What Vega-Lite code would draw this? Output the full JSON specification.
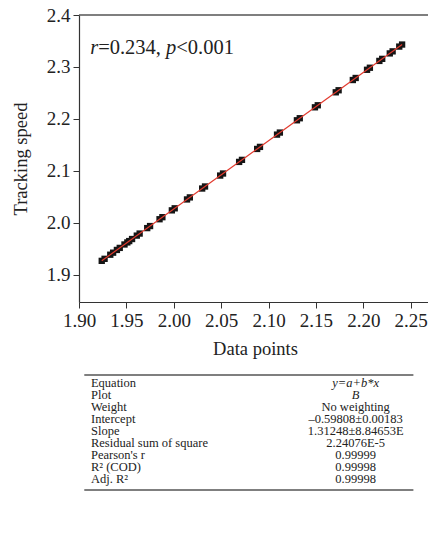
{
  "$schema": "https://vega.github.io/schema/vega-lite/v6.json",
  "background": "white",
  "padding": {"left": 11, "top": 6, "right": 0, "bottom": 0},
  "bounds": "flush",
  "spacing": 73,
  "datasets": {
    "pts": [
      {"x": 1.924, "y": 1.92713}, {"x": 1.927, "y": 1.93107},
      {"x": 1.933, "y": 1.93894}, {"x": 1.936, "y": 1.94288},
      {"x": 1.940, "y": 1.94813}, {"x": 1.943, "y": 1.95207},
      {"x": 1.948, "y": 1.95863}, {"x": 1.951, "y": 1.96257},
      {"x": 1.953, "y": 1.96519}, {"x": 1.956, "y": 1.96913},
      {"x": 1.961, "y": 1.97569}, {"x": 1.964, "y": 1.97963},
      {"x": 1.972, "y": 1.99013}, {"x": 1.975, "y": 1.99407},
      {"x": 1.985, "y": 2.00719}, {"x": 1.988, "y": 2.01113},
      {"x": 1.998, "y": 2.02426}, {"x": 2.001, "y": 2.02820},
      {"x": 2.014, "y": 2.04525}, {"x": 2.017, "y": 2.04919},
      {"x": 2.030, "y": 2.06625}, {"x": 2.033, "y": 2.07019},
      {"x": 2.049, "y": 2.09119}, {"x": 2.052, "y": 2.09513},
      {"x": 2.069, "y": 2.11744}, {"x": 2.072, "y": 2.12138},
      {"x": 2.088, "y": 2.14238}, {"x": 2.091, "y": 2.14632},
      {"x": 2.109, "y": 2.16994}, {"x": 2.112, "y": 2.17388},
      {"x": 2.130, "y": 2.19750}, {"x": 2.133, "y": 2.20144},
      {"x": 2.149, "y": 2.22244}, {"x": 2.152, "y": 2.22638},
      {"x": 2.171, "y": 2.25131}, {"x": 2.174, "y": 2.25525},
      {"x": 2.189, "y": 2.27494}, {"x": 2.192, "y": 2.27888},
      {"x": 2.204, "y": 2.29463}, {"x": 2.207, "y": 2.29857},
      {"x": 2.217, "y": 2.31169}, {"x": 2.220, "y": 2.31563},
      {"x": 2.228, "y": 2.32613}, {"x": 2.231, "y": 2.33007},
      {"x": 2.238, "y": 2.33925}, {"x": 2.241, "y": 2.34319}
    ],
    "fit": [
      {"x": 1.924, "y": 1.92713},
      {"x": 2.241, "y": 2.34319}
    ],
    "table": [
      {"row": 1, "name": "Equation", "value": "y=a+b*x"},
      {"row": 2, "name": "Plot", "value": "B"},
      {"row": 3, "name": "Weight", "value": "No weighting"},
      {"row": 4, "name": "Intercept", "value": "–0.59808±0.00183"},
      {"row": 5, "name": "Slope", "value": "1.31248±8.84653E"},
      {"row": 6, "name": "Residual sum of square", "value": "2.24076E-5"},
      {"row": 7, "name": "Pearson's r", "value": "0.99999"},
      {"row": 8, "name": "R² (COD)", "value": "0.99998"},
      {"row": 9, "name": "Adj. R²", "value": "0.99998"}
    ]
  },
  "config": {
    "view": {"stroke": null},
    "axis": {
      "labelFont": "Liberation Serif",
      "labelFontSize": 19,
      "labelColor": "#222",
      "titleFont": "Liberation Serif",
      "titleFontSize": 18.5,
      "titleFontWeight": "normal",
      "titleColor": "#222",
      "domainColor": "#333",
      "domainWidth": 1.2,
      "tickColor": "#333",
      "tickWidth": 1,
      "grid": false,
      "labelOverlap": false,
      "labelFlush": false
    }
  },
  "vconcat": [
    {
      "width": 352,
      "height": 287,
      "layer": [
        {
          "data": {"name": "pts"},
          "mark": {"type": "square", "size": 40, "filled": true, "color": "#151515", "opacity": 1},
          "encoding": {
            "x": {
              "field": "x", "type": "quantitative",
              "scale": {"domain": [1.9, 2.2715], "nice": false, "zero": false},
              "axis": {
                "title": "Data points",
                "titlePadding": 9,
                "labelPadding": 3,
                "values": [1.9, 1.925, 1.95, 1.975, 2.0, 2.025, 2.05, 2.075, 2.1, 2.125, 2.15, 2.175, 2.2, 2.225, 2.25],
                "labelExpr": "abs(datum.value*20 - round(datum.value*20)) < 0.001 ? format(datum.value, '.2f') : ''",
                "tickSize": {"condition": {"test": "abs(datum.value*20 - round(datum.value*20)) < 0.001", "value": 6}, "value": 3}
              }
            },
            "y": {
              "field": "y", "type": "quantitative",
              "scale": {"domain": [1.848, 2.4], "nice": false, "zero": false},
              "axis": {
                "title": "Tracking speed",
                "titlePadding": 16,
                "labelPadding": 3,
                "values": [1.9, 1.95, 2.0, 2.05, 2.1, 2.15, 2.2, 2.25, 2.3, 2.35, 2.4],
                "labelExpr": "abs(datum.value*10 - round(datum.value*10)) < 0.001 ? format(datum.value, '.1f') : ''",
                "tickSize": {"condition": {"test": "abs(datum.value*10 - round(datum.value*10)) < 0.001", "value": 6}, "value": 3}
              }
            }
          }
        },
        {
          "data": {"name": "fit"},
          "mark": {"type": "line", "color": "#e23a2e", "strokeWidth": 1.2},
          "encoding": {
            "x": {"field": "x", "type": "quantitative"},
            "y": {"field": "y", "type": "quantitative"}
          }
        },
        {
          "data": {"values": [{}]},
          "mark": {"type": "rule", "color": "#555", "strokeWidth": 1.3},
          "encoding": {"y": {"datum": 2.4, "type": "quantitative"}}
        },
        {
          "data": {"values": [{"t": "r"}]},
          "mark": {"type": "text", "align": "left", "baseline": "middle", "font": "Liberation Serif", "fontSize": 20.5, "fontStyle": "italic", "color": "#222"},
          "encoding": {"x": {"datum": 1.9118, "type": "quantitative"}, "y": {"datum": 2.3365, "type": "quantitative"}, "text": {"field": "t"}}
        },
        {
          "data": {"values": [{"t": "=0.234,"}]},
          "mark": {"type": "text", "align": "left", "baseline": "middle", "font": "Liberation Serif", "fontSize": 20.5, "color": "#222"},
          "encoding": {"x": {"datum": 1.9202, "type": "quantitative"}, "y": {"datum": 2.3365, "type": "quantitative"}, "text": {"field": "t"}}
        },
        {
          "data": {"values": [{"t": "p"}]},
          "mark": {"type": "text", "align": "left", "baseline": "middle", "font": "Liberation Serif", "fontSize": 20.5, "fontStyle": "italic", "color": "#222"},
          "encoding": {"x": {"datum": 1.9919, "type": "quantitative"}, "y": {"datum": 2.3365, "type": "quantitative"}, "text": {"field": "t"}}
        },
        {
          "data": {"values": [{"t": "<0.001"}]},
          "mark": {"type": "text", "align": "left", "baseline": "middle", "font": "Liberation Serif", "fontSize": 20.5, "color": "#222"},
          "encoding": {"x": {"datum": 2.0027, "type": "quantitative"}, "y": {"datum": 2.3365, "type": "quantitative"}, "text": {"field": "t"}}
        }
      ]
    },
    {
      "width": 352,
      "height": 115,
      "data": {"name": "table"},
      "layer": [
        {
          "mark": {"type": "text", "align": "left", "baseline": "middle", "font": "Liberation Serif", "fontSize": 12.5, "color": "#222"},
          "encoding": {
            "x": {"datum": 0.034, "type": "quantitative", "scale": {"domain": [0, 1]}, "axis": null},
            "y": {"field": "row", "type": "quantitative", "scale": {"domain": [0.33, 9.95], "reverse": true, "nice": false, "zero": false}, "axis": null},
            "text": {"field": "name"}
          }
        },
        {
          "transform": [{"filter": "datum.row > 2"}],
          "mark": {"type": "text", "align": "center", "baseline": "middle", "font": "Liberation Serif", "fontSize": 12.5, "color": "#222"},
          "encoding": {
            "x": {"datum": 0.786, "type": "quantitative"},
            "y": {"field": "row", "type": "quantitative"},
            "text": {"field": "value"}
          }
        },
        {
          "transform": [{"filter": "datum.row <= 2"}],
          "mark": {"type": "text", "align": "center", "baseline": "middle", "font": "Liberation Serif", "fontSize": 12.5, "fontStyle": "italic", "color": "#222"},
          "encoding": {
            "x": {"datum": 0.786, "type": "quantitative"},
            "y": {"field": "row", "type": "quantitative"},
            "text": {"field": "value"}
          }
        },
        {
          "data": {"values": [{"e": 0.33}, {"e": 9.95}]},
          "mark": {"type": "rule", "color": "#555", "strokeWidth": 1.6},
          "encoding": {
            "x": {"datum": 0.015, "type": "quantitative"},
            "x2": {"datum": 0.95},
            "y": {"field": "e", "type": "quantitative"}
          }
        }
      ]
    }
  ]
}
